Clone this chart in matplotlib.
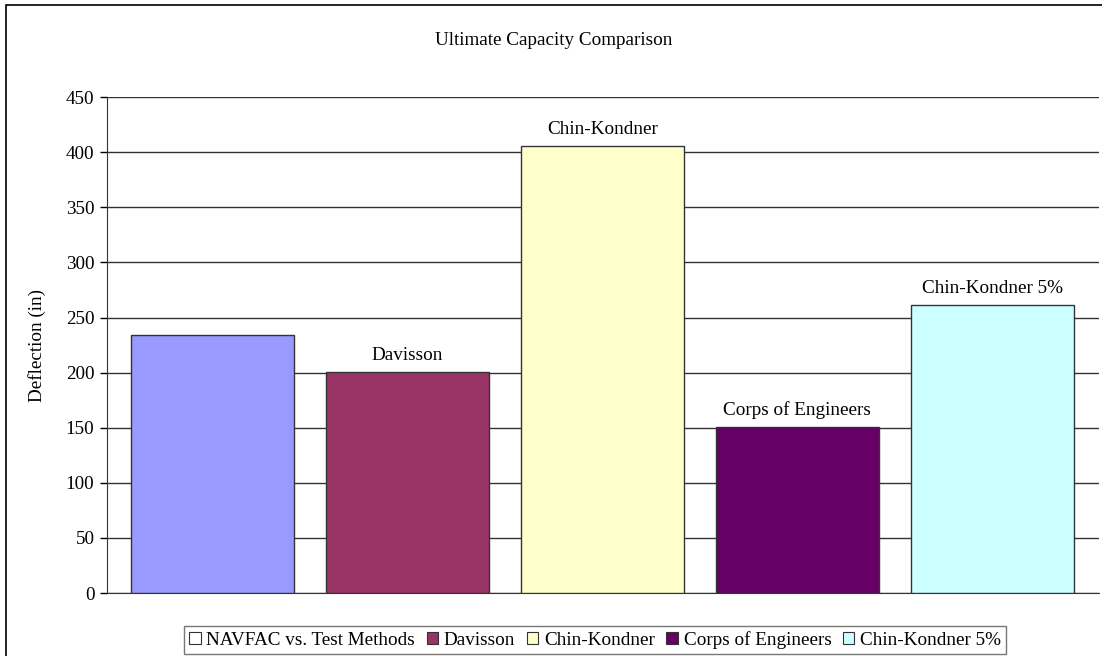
import matplotlib
matplotlib.use("Agg")
import matplotlib.pyplot as plt
from matplotlib.patches import Patch, Rectangle

# Ultimate capacity per method
methods = ["NAVFAC vs. Test Methods", "Davisson", "Chin-Kondner",
           "Corps of Engineers", "Chin-Kondner 5%"]
capacity = [234, 201, 406, 151, 261]
bar_colors = ["#9999ff", "#993366", "#ffffcc", "#660066", "#ccffff"]
legend_colors = ["#ffffff", "#993366", "#ffffcc", "#660066", "#ccffff"]
yticks = [0, 50, 100, 150, 200, 250, 300, 350, 400, 450]

plt.rcParams["font.family"] = ["Liberation Serif", "DejaVu Serif"]
FS = 13.8

fig = plt.figure(figsize=(11.02, 6.56), dpi=100)
ax = fig.add_axes([0.097, 0.096, 0.900, 0.756])

x = list(range(len(methods)))
ax.bar(x, capacity, width=0.836, color=bar_colors, edgecolor="#333333",
       linewidth=1.0, zorder=3)

# series names above every bar except the first
for xi, val, name in zip(x[1:], capacity[1:], methods[1:]):
    ax.annotate(name, (xi, val), xytext=(0, 8.6), textcoords="offset points",
                ha="center", va="baseline", fontsize=FS)

ax.set_xlim(-0.541, 4.546)
ax.set_ylim(0, 450)
ax.set_yticks(yticks)
ax.set_xticks([])
ax.tick_params(axis="y", direction="out", length=5, width=1, labelsize=FS,
               pad=4)
ax.yaxis.grid(True, color="#333333", linewidth=1.0, zorder=0)
ax.set_axisbelow(True)
for side in ["top", "right"]:
    ax.spines[side].set_visible(False)
ax.spines["left"].set_color("#333333")
ax.spines["bottom"].set_color("#333333")
ax.set_ylabel("Deflection (in)", fontsize=FS, labelpad=14)

fig.text(0.502, 0.939, "Ultimate Capacity Comparison", ha="center",
         va="center", fontsize=FS)

handles = [Patch(facecolor=c, edgecolor="#333333", linewidth=0.8)
           for c in legend_colors]
leg = fig.legend(handles, methods, loc="center", bbox_to_anchor=(0.540, 0.0245),
                 ncol=5, frameon=True, fancybox=False, fontsize=FS,
                 handlelength=0.6, handleheight=0.6, handletextpad=0.3,
                 columnspacing=0.6, borderpad=0.25, borderaxespad=0)
leg.get_frame().set_edgecolor("#555555")
leg.get_frame().set_linewidth(1.0)

# chart border
fig.patches.append(Rectangle((0.005, -0.01), 1.1, 1.003, transform=fig.transFigure,
                             fill=False, edgecolor="black", linewidth=1.2))

fig.savefig("out.png", dpi=100)
